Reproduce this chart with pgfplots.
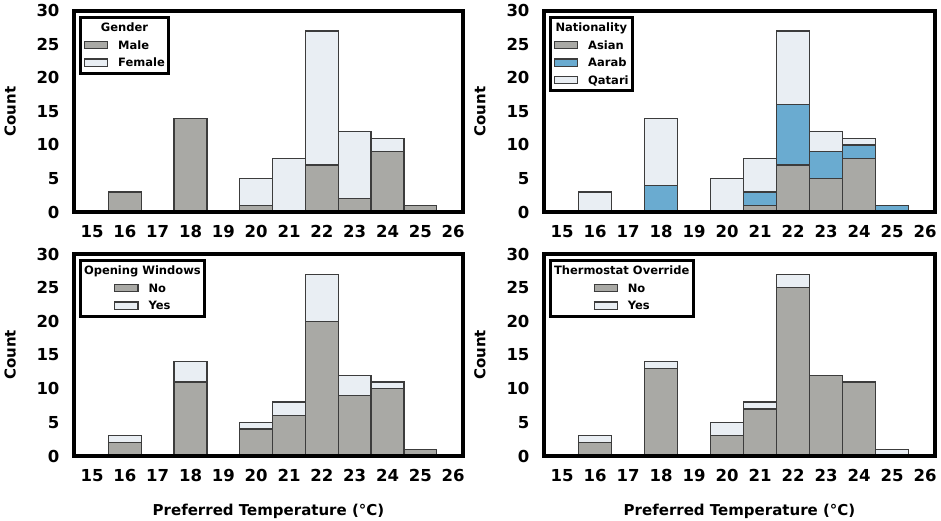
\documentclass[border=0pt]{standalone}
\usepackage{fontspec}
\setmainfont{DejaVu Sans}
\usepackage{pgfplots}
\pgfplotsset{compat=1.18}
\definecolor{grayc}{HTML}{A9A9A5}
\definecolor{lightc}{HTML}{E9EEF3}
\definecolor{bluec}{HTML}{6AABD0}
\definecolor{edgec}{HTML}{3C3C3C}
\newcommand{\sw}[1]{\raisebox{1.2pt}{{\setlength{\fboxsep}{0pt}\setlength{\fboxrule}{1.1pt}\fcolorbox{edgec}{#1}{\rule{0pt}{6pt}\hspace{22pt}}}}}
\newcommand{\leg}[2]{\begin{tabular}{@{}c@{}}#1\\\begin{tabular}[t]{@{}l@{\hspace{10pt}}l@{}}#2\end{tabular}\end{tabular}}
\pgfplotsset{panel/.style={
  scale only axis,
  xmin=14.45, xmax=26.3, ymin=0, ymax=30,
  xtick={15,...,26}, ytick={0,5,...,30},
  major tick length=0pt,
  axis line style={line width=4pt, black},
  axis on top,
  every axis plot/.append style={ybar, bar width=1, bar shift=0pt, draw=edgec, line width=1.3pt},
  tick label style={font=\fontsize{16.5}{19}\selectfont\bfseries},
  /pgf/number format/assume math mode=true,
  xticklabel style={yshift=-9.5pt},
  yticklabel style={xshift=-11pt},
  ylabel={Count},
  ylabel style={at={(axis description cs:-0.164,0.5)}, anchor=center, font=\fontsize{15}{18}\selectfont\bfseries},
  xlabel style={at={(axis description cs:0.5,-0.272)}, anchor=center, font=\fontsize{15}{18}\selectfont\bfseries},
}}
\tikzset{legbox/.style={draw=black, line width=3pt, fill=white, anchor=north west, xshift=4.5pt, yshift=-5.5pt, inner xsep=4pt, inner ysep=1.5pt, font=\fontsize{11.5}{17.5}\selectfont\bfseries}}
\begin{document}
\begin{tikzpicture}
\useasboundingbox (0pt,0pt) rectangle (941pt,521pt);
% Top left: Gender (top of stack = Male + Female, drawn first; Male drawn over it)
\begin{axis}[panel, at={(74pt,309pt)}, anchor=south west, width=389pt, height=201pt]
\addplot[fill=lightc] coordinates {(20,5) (21,8) (22,27) (23,12) (24,11)};
\addplot[fill=grayc] coordinates {(16,3) (18,14) (20,1) (22,7) (23,2) (24,9) (25,1)};
\node[legbox] at (rel axis cs:0,1) {\leg{Gender}{\sw{grayc} & Male\\ \sw{lightc} & Female}};
\end{axis}
% Top right: Nationality (Asian+Aarab+Qatari, Asian+Aarab, Asian)
\begin{axis}[panel, at={(544pt,309pt)}, anchor=south west, width=391pt, height=201pt]
\addplot[fill=lightc] coordinates {(16,3) (18,14) (20,5) (21,8) (22,27) (23,12) (24,11)};
\addplot[fill=bluec] coordinates {(18,4) (21,3) (22,16) (23,9) (24,10) (25,1)};
\addplot[fill=grayc] coordinates {(21,1) (22,7) (23,5) (24,8)};
\node[legbox] at (rel axis cs:0,1) {\leg{Nationality}{\sw{grayc} & Asian\\ \sw{bluec} & Aarab\\ \sw{lightc} & Qatari}};
\end{axis}
% Bottom left: Opening Windows (No+Yes, No)
\begin{axis}[panel, at={(74pt,65pt)}, anchor=south west, width=389pt, height=202pt, xlabel={Preferred Temperature (°C)}]
\addplot[fill=lightc] coordinates {(16,3) (18,14) (20,5) (21,8) (22,27) (23,12) (24,11)};
\addplot[fill=grayc] coordinates {(16,2) (18,11) (20,4) (21,6) (22,20) (23,9) (24,10) (25,1)};
\node[legbox] at (rel axis cs:0,1) {\leg{Opening Windows}{\sw{grayc} & No\\ \sw{lightc} & Yes}};
\end{axis}
% Bottom right: Thermostat Override (No+Yes, No)
\begin{axis}[panel, at={(544pt,65pt)}, anchor=south west, width=391pt, height=202pt, xlabel={Preferred Temperature (°C)}]
\addplot[fill=lightc] coordinates {(16,3) (18,14) (20,5) (21,8) (22,27) (25,1)};
\addplot[fill=grayc] coordinates {(16,2) (18,13) (20,3) (21,7) (22,25) (23,12) (24,11)};
\node[legbox] at (rel axis cs:0,1) {\leg{Thermostat Override}{\sw{grayc} & No\\ \sw{lightc} & Yes}};
\end{axis}
\end{tikzpicture}
\end{document}
